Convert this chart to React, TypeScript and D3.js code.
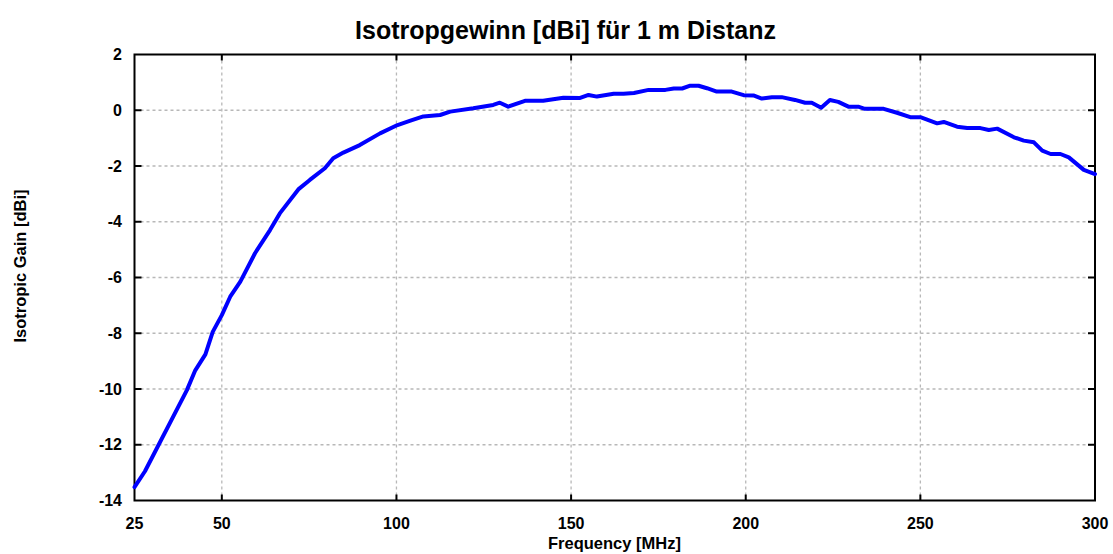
import React from "react";
import * as d3 from "d3";

const freqMHz = [25, 28, 40, 42.4, 45.3, 47.4, 50, 52.4, 55.3, 59.5, 63.8, 66.6, 71.9, 75.2, 79.5, 81.9, 84.8, 89.5, 95.3, 100.3, 104, 107.7, 112.5, 115.4, 122, 127.7, 129.6, 132, 136.8, 142, 147.8, 152.6, 155, 157.4, 162.2, 165, 168, 172.2, 177, 179.4, 181.8, 184.1, 186.5, 188.9, 191.7, 196, 199.4, 202.2, 204.6, 207.5, 210.3, 214.1, 217, 218.9, 221.6, 224.1, 226.5, 229.4, 232.2, 234.1, 239.5, 243.3, 247.1, 250, 254.8, 256.7, 260.5, 263.4, 267.2, 269.6, 272, 276.8, 279.6, 282.5, 284.9, 287.3, 290.1, 292.5, 296.8, 300];
const gainDBi = [-13.52, -12.95, -10.04, -9.33, -8.76, -7.95, -7.35, -6.69, -6.15, -5.13, -4.3, -3.7, -2.84, -2.5, -2.08, -1.72, -1.52, -1.25, -0.83, -0.53, -0.37, -0.22, -0.17, -0.05, 0.07, 0.19, 0.27, 0.13, 0.34, 0.34, 0.45, 0.44, 0.55, 0.49, 0.59, 0.59, 0.62, 0.73, 0.73, 0.78, 0.78, 0.88, 0.88, 0.79, 0.67, 0.67, 0.54, 0.53, 0.42, 0.47, 0.47, 0.37, 0.27, 0.27, 0.09, 0.37, 0.3, 0.13, 0.13, 0.05, 0.05, -0.09, -0.25, -0.25, -0.47, -0.42, -0.59, -0.64, -0.64, -0.71, -0.66, -0.97, -1.09, -1.15, -1.45, -1.57, -1.57, -1.69, -2.14, -2.29];

const xTicks = [25, 50, 100, 150, 200, 250, 300];
const yTicks = [2, 0, -2, -4, -6, -8, -10, -12, -14];

const titleText = "Isotropgewinn [dBi] für 1 m Distanz";
const xLabel = "Frequency [MHz]";
const yLabel = "Isotropic Gain [dBi]";

export default function App() {
  const W = 1113, H = 554;
  const L = 134.5, R = 1095, T = 54.5, B = 500.5;
  const x = d3.scaleLinear().domain([25, 300]).range([L, R]);
  const y = d3.scaleLinear().domain([-14, 2]).range([B, T]);
  const pts = freqMHz.map((f, i) => [f, gainDBi[i]] as [number, number]);
  const line = d3.line<[number, number]>().x(d => x(d[0])).y(d => y(d[1]));
  const font = "'Liberation Sans', Arial, sans-serif";
  const innerX = xTicks.filter(t => t !== 25 && t !== 300);
  const innerY = yTicks.filter(t => t !== 2 && t !== -14);
  return (
    <svg width={W} height={H} style={{ position: "absolute", left: 0, top: 0, background: "#fff" }} fontFamily={font}>
      <rect x={0} y={0} width={W} height={H} fill="#fff" />
      <text x={565.5} y={38.5} textAnchor="middle" fontSize={25} fontWeight="bold" fill="#000">{titleText}</text>
      {innerX.map(t => (
        <line key={"gx" + t} x1={x(t)} x2={x(t)} y1={T} y2={B} stroke="#b8b8b8" strokeWidth={1.3} strokeDasharray="3,3" />
      ))}
      {innerY.map(t => (
        <line key={"gy" + t} x1={L} x2={R} y1={y(t)} y2={y(t)} stroke="#b8b8b8" strokeWidth={1.3} strokeDasharray="3,3" />
      ))}
      {innerX.map(t => (
        <g key={"tx" + t}>
          <line x1={x(t)} x2={x(t)} y1={B} y2={B - 6} stroke="#000" strokeWidth={2} />
          <line x1={x(t)} x2={x(t)} y1={T} y2={T + 6} stroke="#000" strokeWidth={2} />
        </g>
      ))}
      {innerY.map(t => (
        <g key={"ty" + t}>
          <line x1={L} x2={L + 7} y1={y(t)} y2={y(t)} stroke="#000" strokeWidth={2} />
          <line x1={R} x2={R - 7} y1={y(t)} y2={y(t)} stroke="#000" strokeWidth={2} />
        </g>
      ))}
      <rect x={L} y={T} width={R - L} height={B - T} fill="none" stroke="#000" strokeWidth={2} />
      <path d={line(pts) || ""} fill="none" stroke="#0000ff" strokeWidth={4} strokeLinejoin="round" strokeLinecap="round" />
      {xTicks.map(t => (
        <text key={"lx" + t} x={x(t)} y={529} textAnchor="middle" fontSize={16} fontWeight="bold" fill="#000">{t}</text>
      ))}
      {yTicks.map(t => (
        <text key={"ly" + t} x={122} y={y(t) + 5.5} textAnchor="end" fontSize={16} fontWeight="bold" fill="#000">{t}</text>
      ))}
      <text x={614.5} y={549} textAnchor="middle" fontSize={16.5} fontWeight="bold" fill="#000">{xLabel}</text>
      <text transform={`translate(26,${266}) rotate(-90)`} textAnchor="middle" fontSize={16.5} fontWeight="bold" fill="#000">{yLabel}</text>
    </svg>
  );
}
